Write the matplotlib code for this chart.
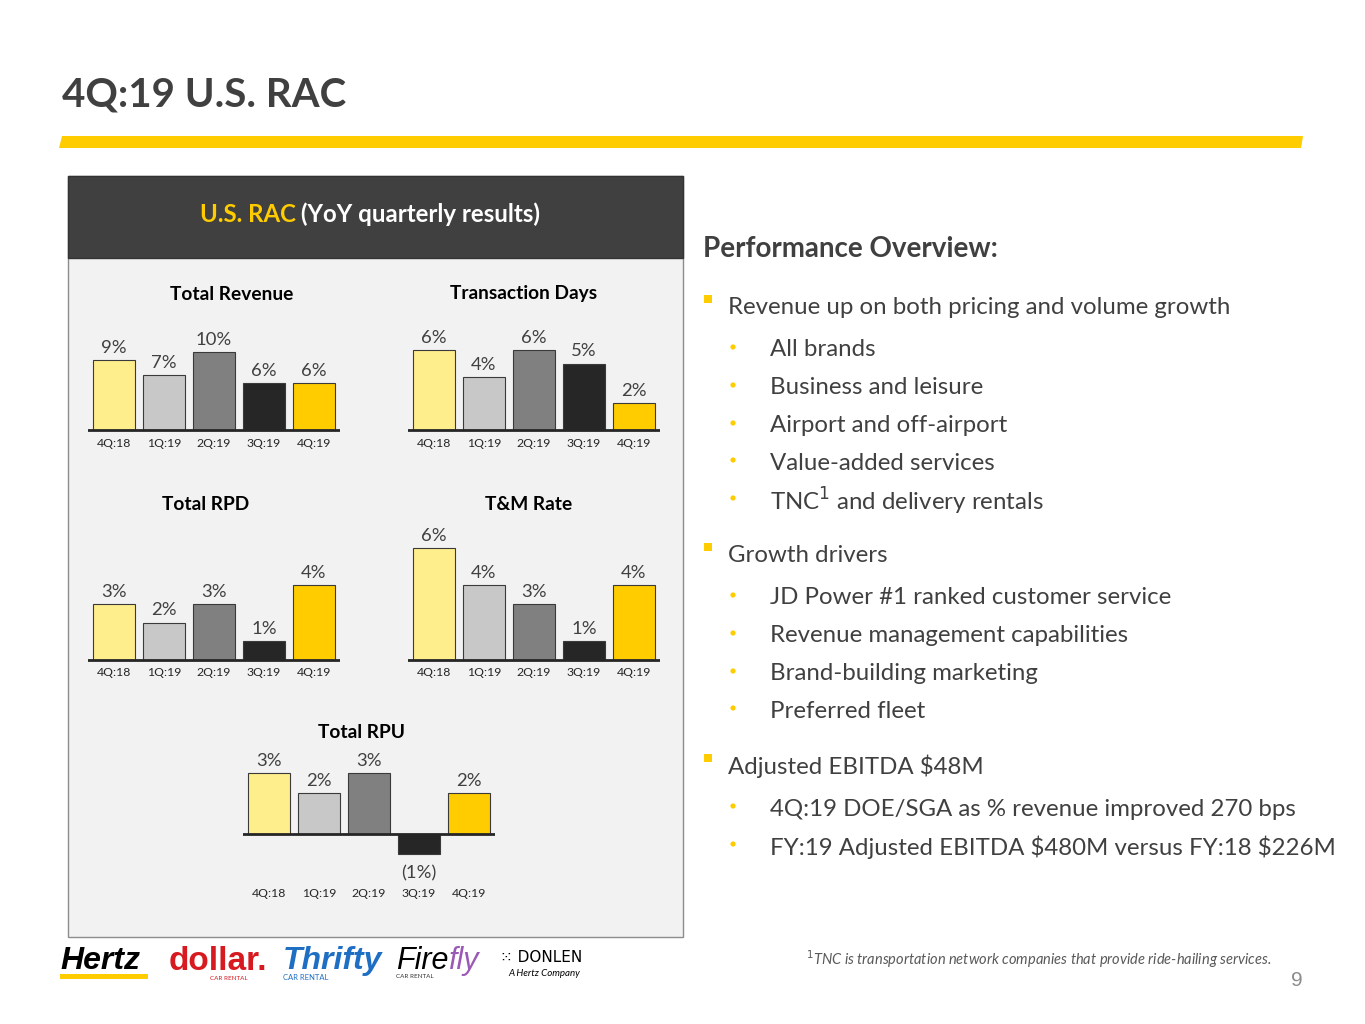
import matplotlib
matplotlib.use("Agg")
import matplotlib.pyplot as plt
from matplotlib.patches import Rectangle, Polygon, Circle

W, H = 1365, 1024
plt.rcParams['font.family'] = ['Lato', 'DejaVu Sans']

# ---------------- data ----------------
quarters = ["4Q:18", "1Q:19", "2Q:19", "3Q:19", "4Q:19"]
bar_colors = ["#FFEE8C", "#C8C8C8", "#808080", "#262626", "#FFCC00"]

total_revenue = [9, 7, 10, 6, 6]
transaction_days = [6, 4, 6, 5, 2]
total_rpd = [3, 2, 3, 1, 4]
tm_rate = [6, 4, 3, 1, 4]
total_rpu = [3, 2, 3, -1, 2]

chart_titles = ["Total Revenue", "Transaction Days", "Total RPD", "T&M Rate", "Total RPU"]

slide_title = "4Q:19 U.S. RAC"
panel_title_hl = "U.S. RAC"
panel_title_rest = " (YoY quarterly results)"
overview_title = "Performance Overview:"
bullets = [
    (1, "Revenue up on both pricing and volume growth"),
    (2, "All brands"),
    (2, "Business and leisure"),
    (2, "Airport and off-airport"),
    (2, "Value-added services"),
    (2, "TNC$^{1}$ and delivery rentals"),
    (1, "Growth drivers"),
    (2, "JD Power #1 ranked customer service"),
    (2, "Revenue management capabilities"),
    (2, "Brand-building marketing"),
    (2, "Preferred fleet"),
    (1, "Adjusted EBITDA \\$48M"),
    (2, "4Q:19 DOE/SGA as % revenue improved 270 bps"),
    (2, "FY:19 Adjusted EBITDA \\$480M versus FY:18 \\$226M"),
]
bullet_y = [306, 349, 387, 425, 462, 500, 554, 597, 635, 673, 710, 765, 808, 846]
footnote = "$^{1}$TNC is transportation network companies that provide ride-hailing services."
page_no = "9"

TXT = "#404040"
YEL = "#FFCC00"

fig = plt.figure(figsize=(W / 100, H / 100), dpi=100)
fig.patch.set_facecolor("white")
bg = fig.add_axes([0, 0, 1, 1])
bg.set_xlim(0, W)
bg.set_ylim(H, 0)
bg.axis("off")
renderer = fig.canvas.get_renderer()


def seq_text(x, y, parts, **common):
    """Draw consecutive text pieces [(text, kwargs), ...] left to right."""
    cur = x
    for txt, kw in parts:
        t = bg.text(cur, y, txt, va="center", ha="left", **common, **kw)
        cur += t.get_window_extent(renderer).width
    return cur - x


# slide title and yellow bar
bg.text(62, 95, slide_title, fontsize=29, fontweight="bold", color=TXT, va="center", ha="left")
bg.add_patch(Polygon([[62, 136], [1303, 136], [1301, 148], [59, 148]], closed=True,
                     facecolor=YEL, edgecolor="none"))

# chart panel
bg.add_patch(Rectangle((68, 176), 615, 761, facecolor="#F2F2F2", edgecolor="#8C8C8C", lw=1.0))
bg.add_patch(Rectangle((68, 176), 615, 82, facecolor="#404040", edgecolor="#333333", lw=1.0))
t1 = bg.text(0, 0, panel_title_hl, fontsize=17.3, fontweight="bold", color=YEL)
t2 = bg.text(0, 0, panel_title_rest, fontsize=17.3, fontweight="bold", color="white")
w1 = t1.get_window_extent(renderer).width
w2 = t2.get_window_extent(renderer).width
x0 = 370 - (w1 + w2) / 2
t1.set_position((x0, 214)); t1.set_va("center")
t2.set_position((x0 + w1, 214)); t2.set_va("center")


def mini_chart(values, title, cx_first, baseline, scale, top_px, label_y, title_xy):
    left = cx_first - 26
    right = cx_first + 4 * 50 + 26
    bottom_px = label_y - 8
    ax = fig.add_axes([left / W, 1 - bottom_px / H, (right - left) / W, (bottom_px - top_px) / H])
    ax.set_facecolor("none")
    ax.set_xlim(-0.52, 4.52)
    ax.set_ylim((baseline - bottom_px) / scale, (baseline - top_px) / scale)
    bars = ax.bar(range(len(values)), values, width=0.84, color=bar_colors,
                  edgecolor="#3A3A3A", linewidth=0.8, zorder=2)
    labs = [f"{v}%" if v >= 0 else f"({abs(v)}%)" for v in values]
    anns = ax.bar_label(bars, labels=labs, padding=3, fontsize=13.3, color=TXT)
    for v, ann in zip(values, anns):
        if v < 0:
            ann.xyann = (0, -8)
    ax.axhline(0, color="#262626", lw=2, zorder=3)
    for s in ax.spines.values():
        s.set_visible(False)
    ax.set_yticks([])
    ax.set_xticks(range(len(values)))
    ax.set_xticklabels(quarters, fontsize=8.8, color="#262626")
    ax.tick_params(axis="x", length=0, pad=1)
    bg.text(title_xy[0], title_xy[1], title, fontsize=13.8, fontweight="bold",
            color="black", ha="center", va="center")
    return ax


mini_chart(total_revenue, chart_titles[0], 114, 430, 7.8, 315, 445, (232, 294))
mini_chart(transaction_days, chart_titles[1], 434, 430, 13.3, 315, 445, (524, 294))
mini_chart(total_rpd, chart_titles[2], 114, 660, 18.7, 520, 674, (206, 505))
mini_chart(tm_rate, chart_titles[3], 434, 660, 18.7, 520, 674, (529, 505))
mini_chart(total_rpu, chart_titles[4], 269, 834, 20.3, 745, 895, (362, 733))

# right-hand text
bg.text(703, 249, overview_title, fontsize=20, fontweight="bold", color=TXT, va="center")
for (lvl, txt), y in zip(bullets, bullet_y):
    if lvl == 1:
        bg.add_patch(Rectangle((704, y - 11), 8, 8, facecolor=YEL, edgecolor="none"))
        bg.text(728, y + 1, txt, fontsize=17.3, color=TXT, va="center")
    else:
        bg.add_patch(Circle((733, y - 2), 2.6, facecolor=YEL, edgecolor="none"))
        bg.text(770, y + 1, txt, fontsize=17.3, color=TXT, va="center")

bg.text(1272, 959, footnote, fontsize=10.5, style="italic", color="#595959", ha="right", va="center")
bg.text(1303, 981, page_no, fontsize=15, color="#8C8C8C", ha="right", va="center",
        family="Liberation Sans")

# brand logos (text approximations)
LOGO = ["Liberation Sans", "DejaVu Sans"]
bg.add_patch(Rectangle((60, 974), 88, 5, facecolor=YEL, edgecolor="none"))
bg.text(60, 961, "Hertz", fontsize=23, fontweight="bold", style="italic", color="black",
        va="center", family=LOGO)
bg.text(169, 961, "dollar.", fontsize=24, fontweight="bold", color="#D71920", va="center",
        family=LOGO)
bg.text(210, 978, "CAR RENTAL", fontsize=4.5, color="#D71920", va="center")
bg.text(283, 961, "Thrifty", fontsize=23, fontweight="bold", style="italic", color="#1E6FC4",
        va="center", family=LOGO)
bg.text(283, 977, "CAR RENTAL", fontsize=5.5, color="#1E6FC4", va="center")
seq_text(396, 961, [("Fire", dict(color="black")), ("fly", dict(color="#9B59B6"))],
         fontsize=22, style="italic", family=LOGO)
bg.text(396, 977, "CAR RENTAL", fontsize=4.5, color="#333333", va="center")
bg.text(500, 957, "\u2059 DONLEN", fontsize=11, color="black", va="center", family=["DejaVu Sans"])
bg.text(508, 974, "A Hertz Company", fontsize=7, style="italic", color="black", va="center")

fig.savefig("out.png", dpi=100, facecolor="white")
